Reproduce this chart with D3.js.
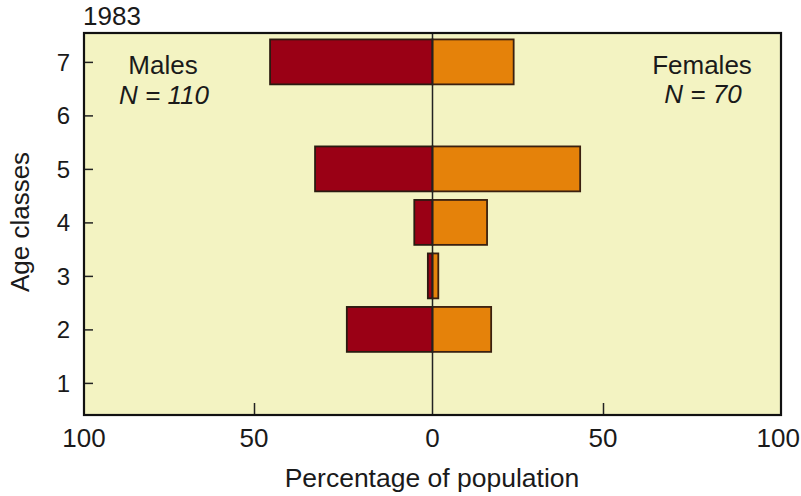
<!DOCTYPE html>
<html><head><meta charset="utf-8">
<script src="https://cdn.jsdelivr.net/npm/d3@7"></script>
<style>
html,body{margin:0;padding:0;background:#fff;}
text{font-family:"Liberation Sans",Arial,Helvetica,sans-serif;fill:#1a1a1a;}
</style></head>
<body>
<svg id="chart" width="801" height="496"></svg>
<script>
// ---- data ----
const ageClasses = [7, 5, 4, 3, 2];
const males   = [45.5, 32.9, 5.1, 1.3, 24.0];
const females = [23.8, 43.3, 16.0, 1.7, 17.2];
const yTicks = [1, 2, 3, 4, 5, 6, 7];
const xTicks = [-100, -50, 0, 50, 100];
const xTickLabels = ["100", "50", "0", "50", "100"];
const title = "1983";
const maleLabel = ["Males", "N = 110"];
const femaleLabel = ["Females", "N = 70"];

const svg = d3.select("#chart");
const W = 801, L = 84, R = 781, T = 33, B = 415;

const x = d3.scaleLinear().domain([-100, -50, 0, 50, 100]).range([L, 254, 432.5, 603, R]);
const y = d3.scaleLinear().domain([0.4, 7.54]).range([B, T]);
const half = 0.42;

// plot background
svg.append("rect").attr("x", L).attr("y", T).attr("width", R - L).attr("height", B - T)
  .attr("fill", "#f3f3c2");

// bars
const rows = ageClasses.map((a, i) => ({age: a, m: males[i], f: females[i]}));
svg.selectAll("rect.male").data(rows).join("rect").attr("class", "male")
  .attr("x", d => x(-d.m)).attr("width", d => x(0) - x(-d.m))
  .attr("y", d => y(d.age + half)).attr("height", d => y(d.age - half) - y(d.age + half))
  .attr("fill", "#9a0015").attr("stroke", "#2a1a10").attr("stroke-width", 1.8);
svg.selectAll("rect.female").data(rows).join("rect").attr("class", "female")
  .attr("x", x(0)).attr("width", d => x(d.f) - x(0))
  .attr("y", d => y(d.age + half)).attr("height", d => y(d.age - half) - y(d.age + half))
  .attr("fill", "#e5820a").attr("stroke", "#3a2010").attr("stroke-width", 1.8);

// zero line
svg.append("line").attr("x1", x(0)).attr("x2", x(0)).attr("y1", T).attr("y2", B)
  .attr("stroke", "#222").attr("stroke-width", 1.5);

// y axis (inner ticks)
const yAxis = d3.axisRight(y).tickValues(yTicks).tickSize(9).tickFormat("");
const gy = svg.append("g").attr("transform", `translate(${L},0)`).call(yAxis);
gy.select(".domain").remove();
gy.selectAll(".tick line").attr("stroke", "#222").attr("stroke-width", 1.5);
svg.selectAll("text.ytl").data(yTicks).join("text").attr("class", "ytl")
  .attr("x", 70).attr("y", d => y(d)).attr("dy", "0.36em")
  .attr("text-anchor", "end").attr("font-size", 24).text(d => d);

// x axis (inner ticks at ±50)
const xAxis = d3.axisTop(x).tickValues([-50, 50]).tickSize(12).tickFormat("");
const gx = svg.append("g").attr("transform", `translate(0,${B})`).call(xAxis);
gx.select(".domain").remove();
gx.selectAll(".tick line").attr("stroke", "#222").attr("stroke-width", 1.5);
svg.selectAll("text.xtl").data(xTicks).join("text").attr("class", "xtl")
  .attr("y", 447).attr("text-anchor", "middle").attr("font-size", 26)
  .text((d, i) => xTickLabels[i])
  .attr("x", function(d) {
    const w = this.getComputedTextLength();
    return Math.min(x(d), W - 1 - w / 2);
  });

// frame
svg.append("rect").attr("x", L).attr("y", T).attr("width", R - L).attr("height", B - T)
  .attr("fill", "none").attr("stroke", "#111").attr("stroke-width", 2.2);

// titles
svg.append("text").attr("x", L - 1).attr("y", 25).attr("font-size", 26).text(title);
svg.append("text").attr("x", 432).attr("y", 487).attr("text-anchor", "middle")
  .attr("font-size", 26.5).text("Percentage of population");
svg.append("text").attr("transform", "translate(29,222) rotate(-90)")
  .attr("text-anchor", "middle").attr("font-size", 26).text("Age classes");

// group labels
svg.append("text").attr("x", 163).attr("y", 74).attr("text-anchor", "middle").attr("font-size", 26).text(maleLabel[0]);
svg.append("text").attr("x", 164).attr("y", 104).attr("text-anchor", "middle").attr("font-size", 26).attr("font-style", "italic").text(maleLabel[1]);
svg.append("text").attr("x", 702).attr("y", 74).attr("text-anchor", "middle").attr("font-size", 26).text(femaleLabel[0]);
svg.append("text").attr("x", 703).attr("y", 103).attr("text-anchor", "middle").attr("font-size", 26).attr("font-style", "italic").text(femaleLabel[1]);
</script>
</body></html>
